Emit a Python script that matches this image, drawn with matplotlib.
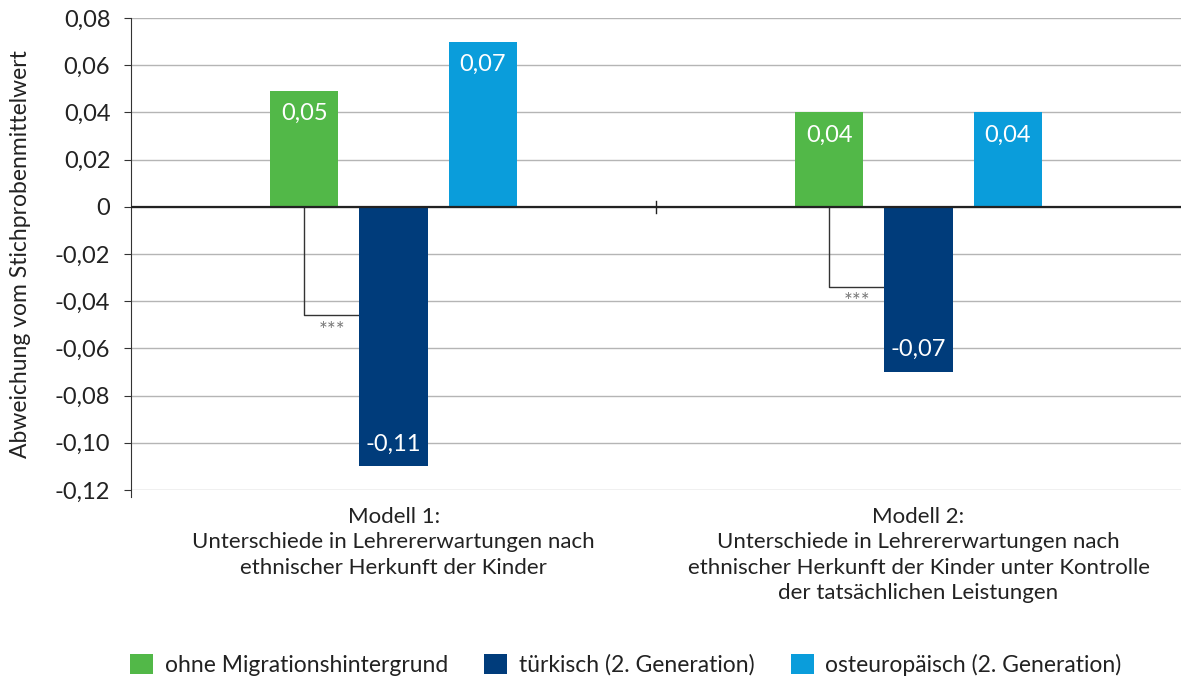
import matplotlib
matplotlib.use("Agg")
import matplotlib.pyplot as plt
import numpy as np

plt.rcParams["font.family"] = ["Lato", "DejaVu Sans"]

models = ["Modell 1:\nUnterschiede in Lehrererwartungen nach\nethnischer Herkunft der Kinder",
          "Modell 2:\nUnterschiede in Lehrererwartungen nach\nethnischer Herkunft der Kinder unter Kontrolle\nder tatsächlichen Leistungen"]
series = ["ohne Migrationshintergrund", "türkisch (2. Generation)", "osteuropäisch (2. Generation)"]
ohne = [0.049, 0.04]
tuerk = [-0.11, -0.07]
osteu = [0.07, 0.04]
labels_ohne = ["0,05", "0,04"]
labels_tuerk = ["-0,11", "-0,07"]
labels_osteu = ["0,07", "0,04"]
bracket_y = [-0.046, -0.034]  # depth of significance brackets
sig = ["***", "***"]
yticks = [0.08, 0.06, 0.04, 0.02, 0, -0.02, -0.04, -0.06, -0.08, -0.10, -0.12]
colors = ["#52b848", "#003c7b", "#0a9ddb"]

fig = plt.figure(figsize=(11.81, 6.82), dpi=100)
ax = fig.add_axes([0.111, 0.2815, 0.889, 0.692])

x = np.arange(len(models))
w = 0.13
step = 0.17
all_vals = [ohne, tuerk, osteu]
all_labs = [labels_ohne, labels_tuerk, labels_osteu]
for i, (vals, labs) in enumerate(zip(all_vals, all_labs)):
    pos = x + (i - 1) * step
    ax.bar(pos, vals, width=w, color=colors[i], label=series[i], zorder=3)
    for p, v, t in zip(pos, vals, labs):
        off = -0.0095 if v > 0 else 0.0095
        ax.text(p, v + off, t, ha="center", va="center", color="white", fontsize=17, zorder=4)

# significance brackets
for xi, by, s in zip(x, bracket_y, sig):
    x0 = xi - step
    x1 = xi - w / 2
    ax.plot([x0, x0, x1], [0, by, by], color="#333333", lw=1, zorder=2)
    ax.text((x0 + x1) / 2, by - 0.0065, s, ha="center", va="center", fontsize=15, color="#777777")

ax.set_xlim(-0.5, 1.5)
ax.set_ylim(-0.12, 0.08)
ax.set_yticks(yticks)
ax.set_yticklabels([f"{t:.2f}".replace(".", ",") if t != 0 else "0" for t in yticks])
ax.tick_params(axis="y", labelsize=17, length=5, color="#333333", labelcolor="#222222", pad=10)
ax.set_xticks([])
ax.grid(axis="y", color="#b5b5b5", lw=1, zorder=0)
ax.axhline(0, color="#222222", lw=1.6, zorder=3)
ax.plot([0.5, 0.5], [-0.0025, 0.0025], color="#222222", lw=1, zorder=3)
for s in ["top", "right", "bottom"]:
    ax.spines[s].set_visible(False)
ax.spines["left"].set_color("#333333")
ax.spines["left"].set_bounds(-0.123, 0.08)
ax.set_ylabel("Abweichung vom Stichprobenmittelwert", fontsize=16.5, color="#222222")
ax.yaxis.set_label_coords(-0.095, 0.5)

for xi, m in zip(x, models):
    ax.text(xi, -0.127, m, ha="center", va="top", fontsize=16, color="#222222",
            linespacing=1.35, transform=ax.transData)

fig.legend(loc="center", bbox_to_anchor=(0.53, 0.025), ncol=3, frameon=False,
           fontsize=16.5, handlelength=1.0, handleheight=1.0, handletextpad=0.5,
           columnspacing=1.6, labelcolor="#222222")

fig.savefig("out.png", dpi=100)
